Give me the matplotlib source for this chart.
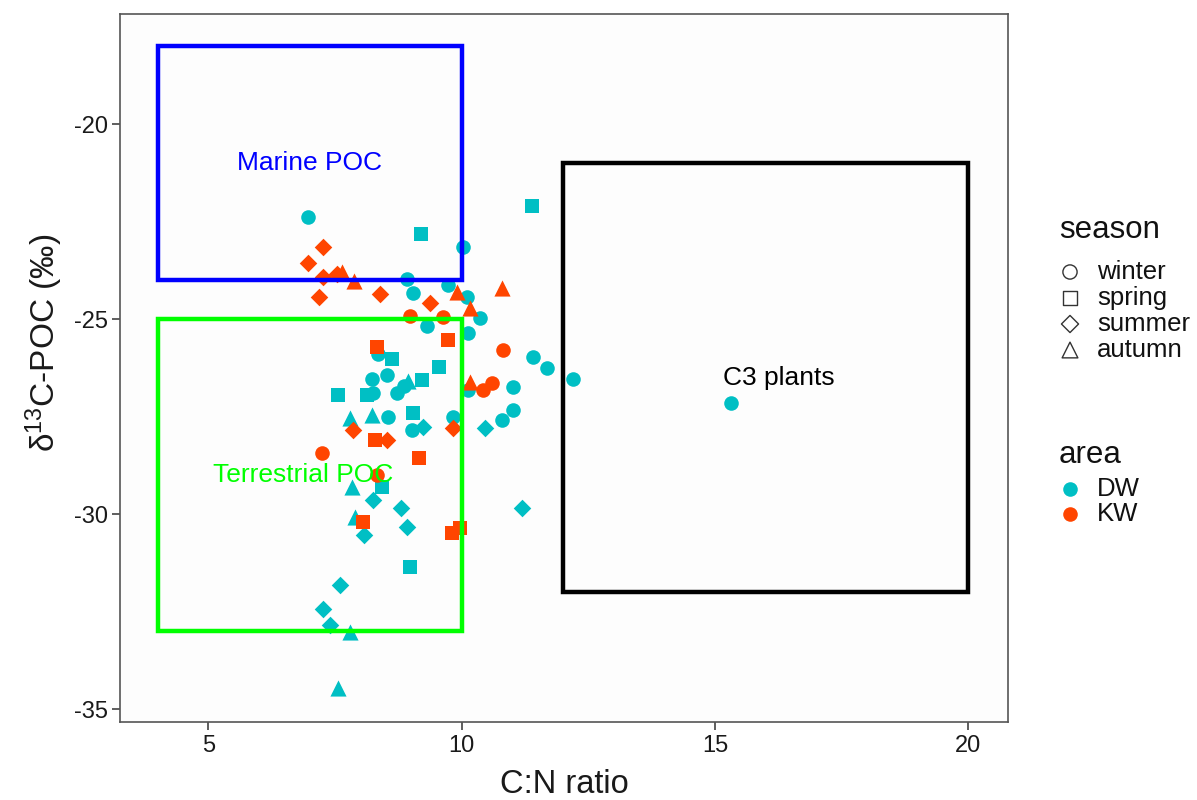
import matplotlib
matplotlib.use("Agg")
import matplotlib.pyplot as plt
from matplotlib.patches import Rectangle

plt.rcParams['font.family'] = ['Liberation Sans', 'DejaVu Sans']
plt.rcParams['mathtext.default'] = 'regular'
plt.rcParams['axes.unicode_minus'] = False

# C:N ratio and d13C-POC, split by area (DW / KW) and season
dw_winter_cn = [6.97, 10.03, 8.93, 9.04, 9.73, 10.11, 10.36, 9.32, 10.13, 11.41, 11.69, 12.2,
                8.35, 8.23, 8.53, 8.25, 8.73, 8.87, 8.55, 9.02, 9.83, 10.13, 11.02, 11.02, 10.8, 15.32]
dw_winter_c13 = [-22.38, -23.15, -23.97, -24.33, -24.13, -24.44, -24.97, -25.18, -25.36, -25.97, -26.26, -26.54,
                 -25.9, -26.54, -26.44, -26.9, -26.9, -26.72, -27.51, -27.85, -27.51, -26.82, -26.74, -27.33, -27.59, -27.15]
dw_spring_cn = [11.39, 9.2, 8.63, 9.56, 7.56, 8.14, 9.22, 9.04, 8.43, 8.98]
dw_spring_c13 = [-22.1, -22.82, -26.03, -26.23, -26.95, -26.95, -26.56, -27.41, -29.31, -31.36]
dw_summer_cn = [9.24, 10.46, 8.25, 8.81, 8.93, 8.08, 11.19, 7.6, 7.27, 7.41]
dw_summer_c13 = [-27.77, -27.79, -29.64, -29.85, -30.33, -30.54, -29.85, -31.82, -32.44, -32.85]
dw_autumn_cn = [7.8, 8.23, 8.94, 7.84, 7.9, 7.8, 7.56]
dw_autumn_c13 = [-27.54, -27.46, -26.59, -29.31, -30.08, -33.03, -34.46]

kw_winter_cn = [8.98, 9.64, 10.82, 10.42, 10.6, 7.25, 8.33]
kw_winter_c13 = [-24.92, -24.95, -25.79, -26.82, -26.64, -28.44, -29.0]
kw_spring_cn = [9.73, 8.33, 8.29, 9.16, 8.06, 9.81, 9.97]
kw_spring_c13 = [-25.54, -25.72, -28.1, -28.56, -30.21, -30.49, -30.36]
kw_summer_cn = [7.27, 6.97, 7.27, 7.54, 7.19, 8.39, 9.38, 9.83, 7.86, 8.53]
kw_summer_c13 = [-23.15, -23.56, -23.92, -23.85, -24.44, -24.36, -24.59, -27.79, -27.85, -28.1]
kw_autumn_cn = [7.64, 7.88, 9.91, 10.17, 10.8, 10.17]
kw_autumn_c13 = [-23.79, -24.03, -24.31, -24.72, -24.21, -26.62]

# source end-member boxes: (name, x0, x1, y0, y1, colour, label x, label y)
boxes = [
    ("Marine POC", 4, 10, -24, -18, "#0000FF", 7.0, -21.0),
    ("Terrestrial POC", 4, 10, -33, -25, "#00FF00", 6.87, -29.0),
    ("C3 plants", 12, 20, -32, -21, "#000000", 16.25, -26.5),
]

seasons = ["winter", "spring", "summer", "autumn"]
markers = {"winter": "o", "spring": "s", "summer": "D", "autumn": "^"}
msize = {"winter": 110, "spring": 100, "summer": 80, "autumn": 135}
areas = ["DW", "KW"]
colors = {"DW": "#00BFC4", "KW": "#FF4500"}

data = {
    ("DW", "winter"): (dw_winter_cn, dw_winter_c13),
    ("DW", "spring"): (dw_spring_cn, dw_spring_c13),
    ("DW", "summer"): (dw_summer_cn, dw_summer_c13),
    ("DW", "autumn"): (dw_autumn_cn, dw_autumn_c13),
    ("KW", "winter"): (kw_winter_cn, kw_winter_c13),
    ("KW", "spring"): (kw_spring_cn, kw_spring_c13),
    ("KW", "summer"): (kw_summer_cn, kw_summer_c13),
    ("KW", "autumn"): (kw_autumn_cn, kw_autumn_c13),
}

fig = plt.figure(figsize=(11.97, 8.0), dpi=100)
ax = fig.add_axes([0.1003, 0.0975, 0.7417, 0.885])
ax.set_facecolor("#FDFDFD")

for area in areas:
    for s in seasons:
        x, y = data[(area, s)]
        ax.scatter(x, y, marker=markers[s], s=msize[s], color=colors[area],
                   linewidths=0, zorder=2)

for name, x0, x1, y0, y1, col, tx, ty in boxes:
    ax.add_patch(Rectangle((x0, y0), x1 - x0, y1 - y0, fill=False,
                           edgecolor=col, linewidth=3.2, zorder=3))
    ax.text(tx, ty, name, color=col, fontsize=19, ha="center", va="center", zorder=4)

ax.set_xlim(3.26, 20.78)
ax.set_ylim(-35.33, -17.18)
ax.set_xticks([5, 10, 15, 20])
ax.set_yticks([-35, -30, -25, -20])
ax.tick_params(direction="out", length=6, width=1.1, color="#333333",
               labelsize=17, labelcolor="#1a1a1a", pad=3)
for sp in ax.spines.values():
    sp.set_color("#555555")
    sp.set_linewidth(1.2)

ax.set_xlabel("C:N ratio", fontsize=23.5, color="#1a1a1a", labelpad=9)
ax.set_ylabel("$\\delta^{13}$C-POC (‰)", fontsize=24, color="#1a1a1a", labelpad=6)
ax.yaxis.set_label_coords(-0.062, 0.535)

# legends, laid out in pixel coordinates of a side panel
lax = fig.add_axes([0, 0, 1, 1], facecolor="none")
lax.set_xlim(0, 1197)
lax.set_ylim(800, 0)
lax.axis("off")

lax.text(1059, 230, "season", fontsize=22.5, ha="left", va="center", color="#111111")
for i, s in enumerate(seasons):
    yy = 272 + 26 * i
    lax.scatter([1070], [yy], marker=markers[s], s=msize[s] * 0.95, facecolor="none",
                edgecolor="#333333", linewidths=1.0)
    lax.text(1097, yy, s, fontsize=18.5, ha="left", va="center", color="#111111")

lax.text(1059, 455, "area", fontsize=22.5, ha="left", va="center", color="#111111")
for i, a in enumerate(areas):
    yy = 489 + 25 * i
    lax.scatter([1070], [yy], marker="o", s=110, color=colors[a], linewidths=0)
    lax.text(1097, yy, a, fontsize=18.5, ha="left", va="center", color="#111111")

fig.savefig("out.png", dpi=100)
